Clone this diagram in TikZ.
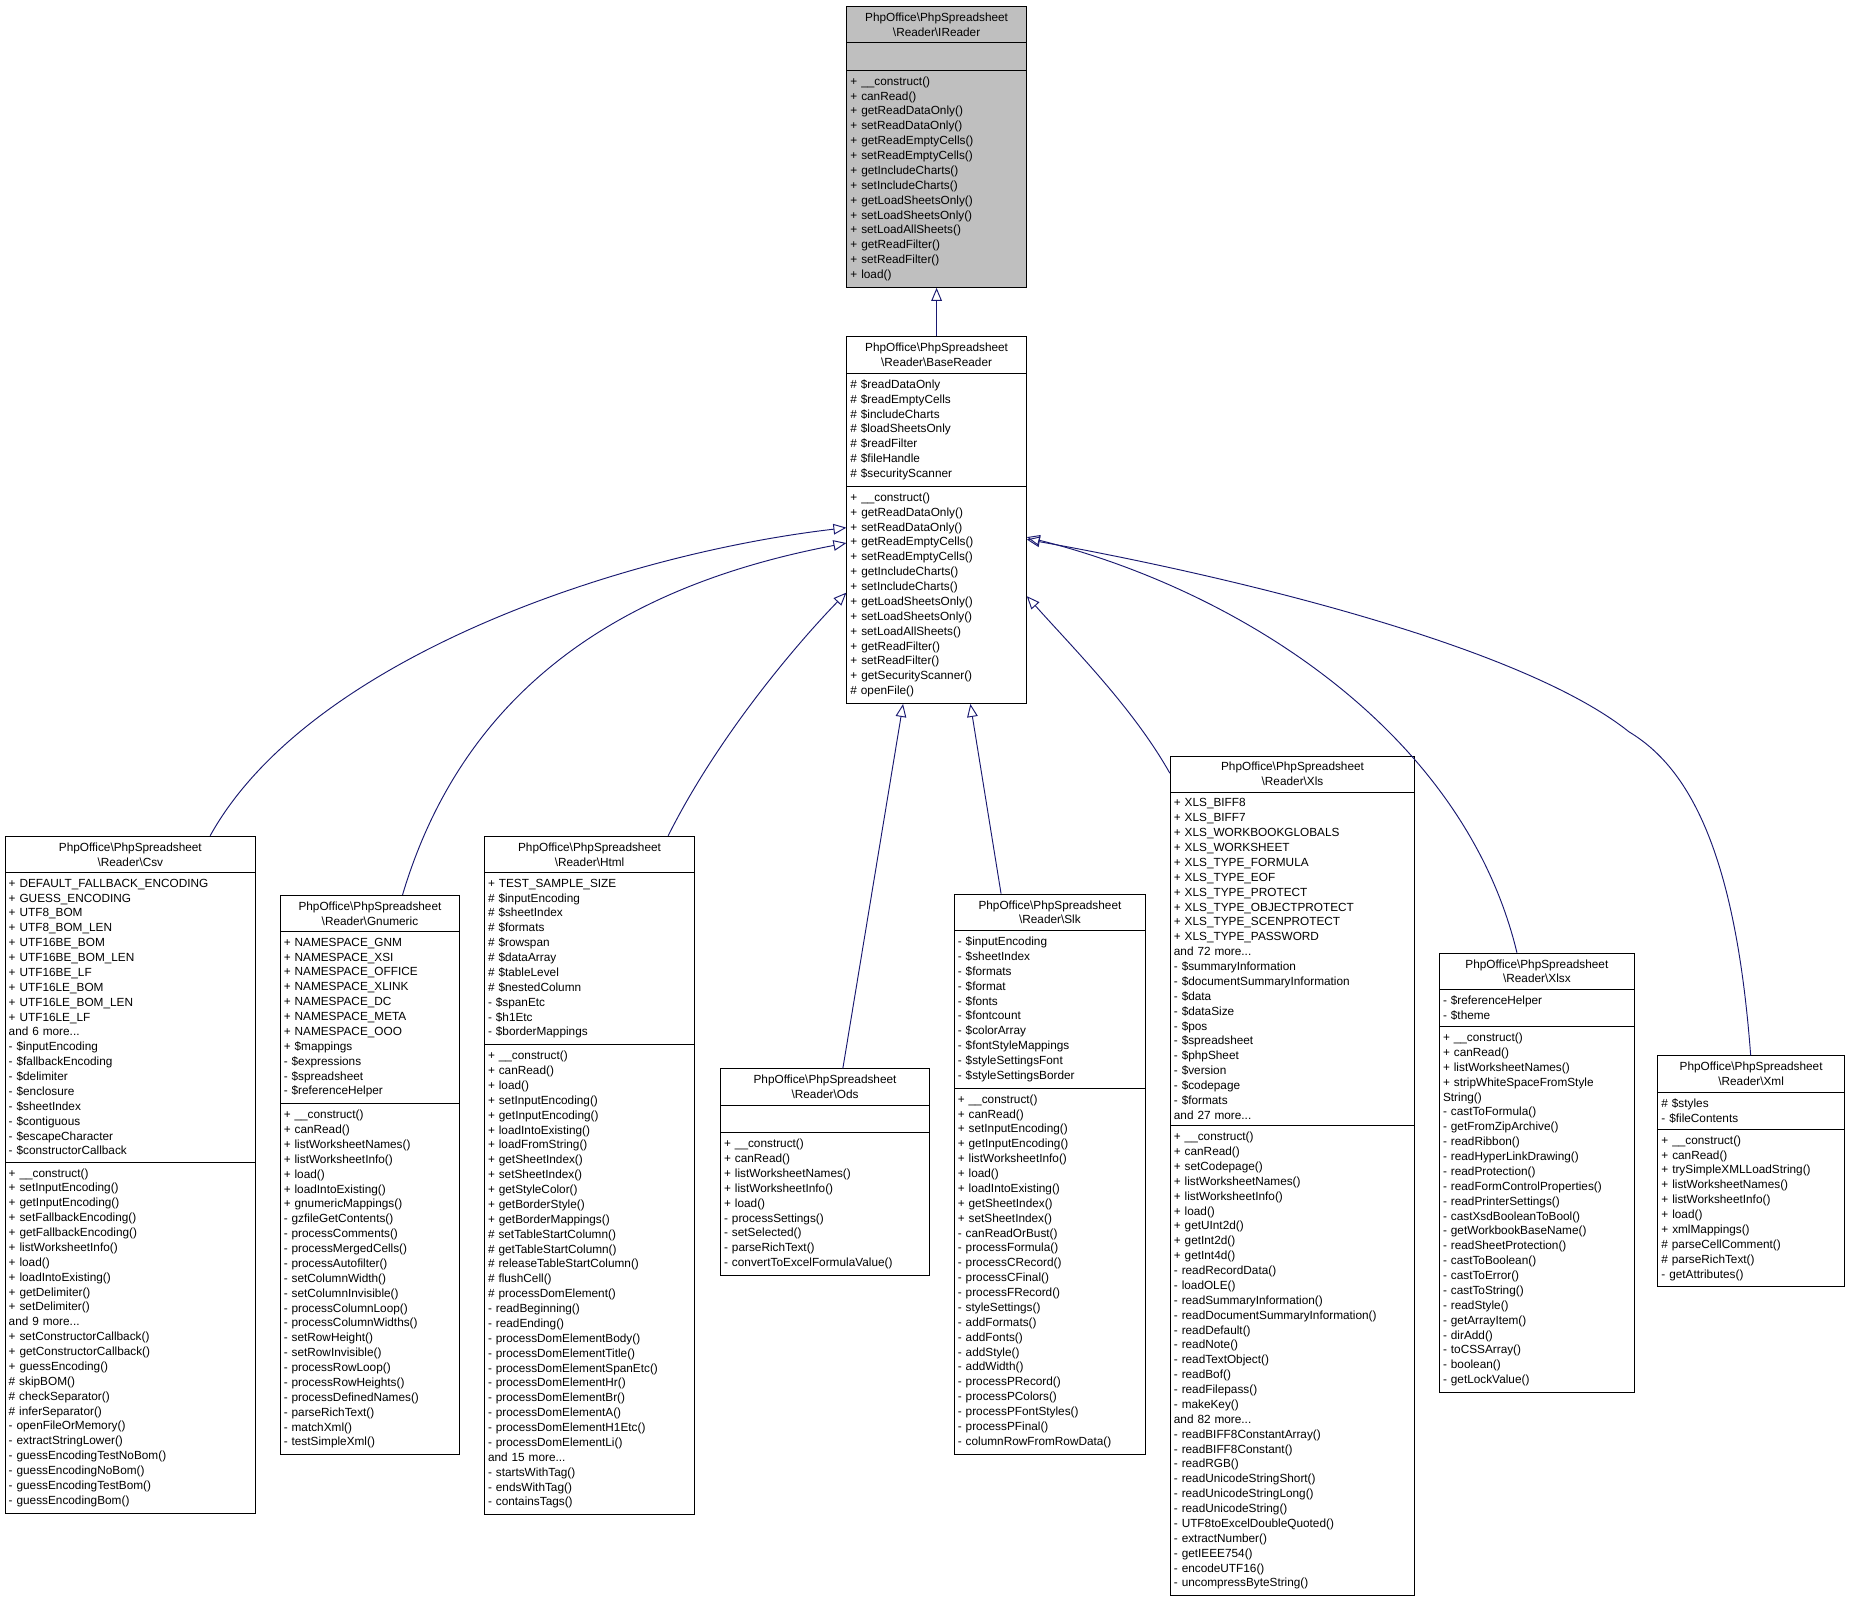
\documentclass[tikz,border=0pt]{standalone}
\usepackage{fontspec}
\setmainfont{Liberation Sans}
\usetikzlibrary{arrows.meta, shapes.multipart}
\definecolor{edgeblue}{HTML}{191970}
\newcommand\bs{\textbackslash}
\newcommand\cname[1]{\makebox[\linewidth]{PhpOffice\bs PhpSpreadsheet}\\\makebox[\linewidth]{\bs Reader\bs #1}}
\tikzset{
    classbox/.style = {
        draw, line width=0.8pt, rectangle split, rectangle split parts=3, align=left, anchor=north west,
        inner xsep=3pt, inner ysep=5pt, font=\fontsize{10}{12.6}\selectfont, fill=white
    },
    inherit/.style = {
        draw=edgeblue, line width=0.8pt, -{Triangle[open, length=11pt, width=9pt]}
    },
}
\begin{document}
\begin{tikzpicture}[x=1pt, y=-1pt]
        \useasboundingbox (0,0) rectangle (1568,1355);
        % Place the classes
        \node [classbox, fill=black!25, text width=146pt] (ireader) at (717,5)
            {\cname{IReader}
            \nodepart{two}\strut
            \nodepart{three}+ \_\_construct()\\+ canRead()\\+ getReadDataOnly()\\+ setReadDataOnly()\\+ getReadEmptyCells()\\+ setReadEmptyCells()\\+ getIncludeCharts()\\+ setIncludeCharts()\\+ getLoadSheetsOnly()\\+ setLoadSheetsOnly()\\+ setLoadAllSheets()\\+ getReadFilter()\\+ setReadFilter()\\+ load()};
        \node [classbox, text width=146pt] (base) at (717,285)
            {\cname{BaseReader}
            \nodepart{two}\# \$readDataOnly\\\# \$readEmptyCells\\\# \$includeCharts\\\# \$loadSheetsOnly\\\# \$readFilter\\\# \$fileHandle\\\# \$securityScanner
            \nodepart{three}+ \_\_construct()\\+ getReadDataOnly()\\+ setReadDataOnly()\\+ getReadEmptyCells()\\+ setReadEmptyCells()\\+ getIncludeCharts()\\+ setIncludeCharts()\\+ getLoadSheetsOnly()\\+ setLoadSheetsOnly()\\+ setLoadAllSheets()\\+ getReadFilter()\\+ setReadFilter()\\+ getSecurityScanner()\\\# openFile()};
        \node [classbox, text width=206pt] (csv) at (4,708)
            {\cname{Csv}
            \nodepart{two}+ DEFAULT\_FALLBACK\_ENCODING\\+ GUESS\_ENCODING\\+ UTF8\_BOM\\+ UTF8\_BOM\_LEN\\+ UTF16BE\_BOM\\+ UTF16BE\_BOM\_LEN\\+ UTF16BE\_LF\\+ UTF16LE\_BOM\\+ UTF16LE\_BOM\_LEN\\+ UTF16LE\_LF\\and 6 more...\\- \$inputEncoding\\- \$fallbackEncoding\\- \$delimiter\\- \$enclosure\\- \$sheetIndex\\- \$contiguous\\- \$escapeCharacter\\- \$constructorCallback
            \nodepart{three}+ \_\_construct()\\+ setInputEncoding()\\+ getInputEncoding()\\+ setFallbackEncoding()\\+ getFallbackEncoding()\\+ listWorksheetInfo()\\+ load()\\+ loadIntoExisting()\\+ getDelimiter()\\+ setDelimiter()\\and 9 more...\\+ setConstructorCallback()\\+ getConstructorCallback()\\+ guessEncoding()\\\# skipBOM()\\\# checkSeparator()\\\# inferSeparator()\\- openFileOrMemory()\\- extractStringLower()\\- guessEncodingTestNoBom()\\- guessEncodingNoBom()\\- guessEncodingTestBom()\\- guessEncodingBom()};
        \node [classbox, text width=146pt] (gnumeric) at (237,758)
            {\cname{Gnumeric}
            \nodepart{two}+ NAMESPACE\_GNM\\+ NAMESPACE\_XSI\\+ NAMESPACE\_OFFICE\\+ NAMESPACE\_XLINK\\+ NAMESPACE\_DC\\+ NAMESPACE\_META\\+ NAMESPACE\_OOO\\+ \$mappings\\- \$expressions\\- \$spreadsheet\\- \$referenceHelper
            \nodepart{three}+ \_\_construct()\\+ canRead()\\+ listWorksheetNames()\\+ listWorksheetInfo()\\+ load()\\+ loadIntoExisting()\\+ gnumericMappings()\\- gzfileGetContents()\\- processComments()\\- processMergedCells()\\- processAutofilter()\\- setColumnWidth()\\- setColumnInvisible()\\- processColumnLoop()\\- processColumnWidths()\\- setRowHeight()\\- setRowInvisible()\\- processRowLoop()\\- processRowHeights()\\- processDefinedNames()\\- parseRichText()\\- matchXml()\\- testSimpleXml()};
        \node [classbox, text width=172pt] (html) at (410,708)
            {\cname{Html}
            \nodepart{two}+ TEST\_SAMPLE\_SIZE\\\# \$inputEncoding\\\# \$sheetIndex\\\# \$formats\\\# \$rowspan\\\# \$dataArray\\\# \$tableLevel\\\# \$nestedColumn\\- \$spanEtc\\- \$h1Etc\\- \$borderMappings
            \nodepart{three}+ \_\_construct()\\+ canRead()\\+ load()\\+ setInputEncoding()\\+ getInputEncoding()\\+ loadIntoExisting()\\+ loadFromString()\\+ getSheetIndex()\\+ setSheetIndex()\\+ getStyleColor()\\+ getBorderStyle()\\+ getBorderMappings()\\\# setTableStartColumn()\\\# getTableStartColumn()\\\# releaseTableStartColumn()\\\# flushCell()\\\# processDomElement()\\- readBeginning()\\- readEnding()\\- processDomElementBody()\\- processDomElementTitle()\\- processDomElementSpanEtc()\\- processDomElementHr()\\- processDomElementBr()\\- processDomElementA()\\- processDomElementH1Etc()\\- processDomElementLi()\\and 15 more...\\- startsWithTag()\\- endsWithTag()\\- containsTags()};
        \node [classbox, text width=171pt] (ods) at (610,905)
            {\cname{Ods}
            \nodepart{two}\strut
            \nodepart{three}+ \_\_construct()\\+ canRead()\\+ listWorksheetNames()\\+ listWorksheetInfo()\\+ load()\\- processSettings()\\- setSelected()\\- parseRichText()\\- convertToExcelFormulaValue()};
        \node [classbox, text width=156pt] (slk) at (808,757)
            {\cname{Slk}
            \nodepart{two}- \$inputEncoding\\- \$sheetIndex\\- \$formats\\- \$format\\- \$fonts\\- \$fontcount\\- \$colorArray\\- \$fontStyleMappings\\- \$styleSettingsFont\\- \$styleSettingsBorder
            \nodepart{three}+ \_\_construct()\\+ canRead()\\+ setInputEncoding()\\+ getInputEncoding()\\+ listWorksheetInfo()\\+ load()\\+ loadIntoExisting()\\+ getSheetIndex()\\+ setSheetIndex()\\- canReadOrBust()\\- processFormula()\\- processCRecord()\\- processCFinal()\\- processFRecord()\\- styleSettings()\\- addFormats()\\- addFonts()\\- addStyle()\\- addWidth()\\- processPRecord()\\- processPColors()\\- processPFontStyles()\\- processPFinal()\\- columnRowFromRowData()};
        \node [classbox, text width=201pt] (xls) at (991,640)
            {\cname{Xls}
            \nodepart{two}+ XLS\_BIFF8\\+ XLS\_BIFF7\\+ XLS\_WORKBOOKGLOBALS\\+ XLS\_WORKSHEET\\+ XLS\_TYPE\_FORMULA\\+ XLS\_TYPE\_EOF\\+ XLS\_TYPE\_PROTECT\\+ XLS\_TYPE\_OBJECTPROTECT\\+ XLS\_TYPE\_SCENPROTECT\\+ XLS\_TYPE\_PASSWORD\\and 72 more...\\- \$summaryInformation\\- \$documentSummaryInformation\\- \$data\\- \$dataSize\\- \$pos\\- \$spreadsheet\\- \$phpSheet\\- \$version\\- \$codepage\\- \$formats\\and 27 more...
            \nodepart{three}+ \_\_construct()\\+ canRead()\\+ setCodepage()\\+ listWorksheetNames()\\+ listWorksheetInfo()\\+ load()\\+ getUInt2d()\\+ getInt2d()\\+ getInt4d()\\- readRecordData()\\- loadOLE()\\- readSummaryInformation()\\- readDocumentSummaryInformation()\\- readDefault()\\- readNote()\\- readTextObject()\\- readBof()\\- readFilepass()\\- makeKey()\\and 82 more...\\- readBIFF8ConstantArray()\\- readBIFF8Constant()\\- readRGB()\\- readUnicodeStringShort()\\- readUnicodeStringLong()\\- readUnicodeString()\\- UTF8toExcelDoubleQuoted()\\- extractNumber()\\- getIEEE754()\\- encodeUTF16()\\- uncompressByteString()};
        \node [classbox, text width=159pt] (xlsx) at (1219,807)
            {\cname{Xlsx}
            \nodepart{two}- \$referenceHelper\\- \$theme
            \nodepart{three}+ \_\_construct()\\+ canRead()\\+ listWorksheetNames()\\+ stripWhiteSpaceFromStyle\\String()\\- castToFormula()\\- getFromZipArchive()\\- readRibbon()\\- readHyperLinkDrawing()\\- readProtection()\\- readFormControlProperties()\\- readPrinterSettings()\\- castXsdBooleanToBool()\\- getWorkbookBaseName()\\- readSheetProtection()\\- castToBoolean()\\- castToError()\\- castToString()\\- readStyle()\\- getArrayItem()\\- dirAdd()\\- toCSSArray()\\- boolean()\\- getLockValue()};
        \node [classbox, text width=152pt] (xml) at (1404,894)
            {\cname{Xml}
            \nodepart{two}\# \$styles\\- \$fileContents
            \nodepart{three}+ \_\_construct()\\+ canRead()\\+ trySimpleXMLLoadString()\\+ listWorksheetNames()\\+ listWorksheetInfo()\\+ load()\\+ xmlMappings()\\\# parseCellComment()\\\# parseRichText()\\- getAttributes()};
        % Draw inheritance
        \draw[inherit] (base.north) -- (ireader.south);
        \draw[inherit] (csv.north -| 178,0) .. controls (260,560) and (520,470) .. (base.north west |- 0,447);
        \draw[inherit] (gnumeric.north -| 341,0) .. controls (400,560) and (560,490) .. (base.north west |- 0,460);
        \draw[inherit] (html.north -| 566,0) .. controls (610,620) and (680,540) .. (base.north west |- 0,502);
        \draw[inherit] (ods.north -| 714,0) -- (base.south -| 765,0);
        \draw[inherit] (slk.north -| 848,0) -- (base.south -| 822,0);
        \draw[inherit] (xls.north west |- 0,655) .. controls (960,600) and (910,550) .. (base.north east |- 0,505);
        \draw[inherit] (xlsx.north -| 1285,0) .. controls (1240,620) and (1050,500) .. (base.north east |- 0,455);
        \draw[inherit] (xml.north -| 1483,0) .. controls (1470,720) and (1430,650) .. (1380,620) .. controls (1280,540) and (1000,480) .. (base.north east |- 0,457);
\end{tikzpicture}
\end{document}
